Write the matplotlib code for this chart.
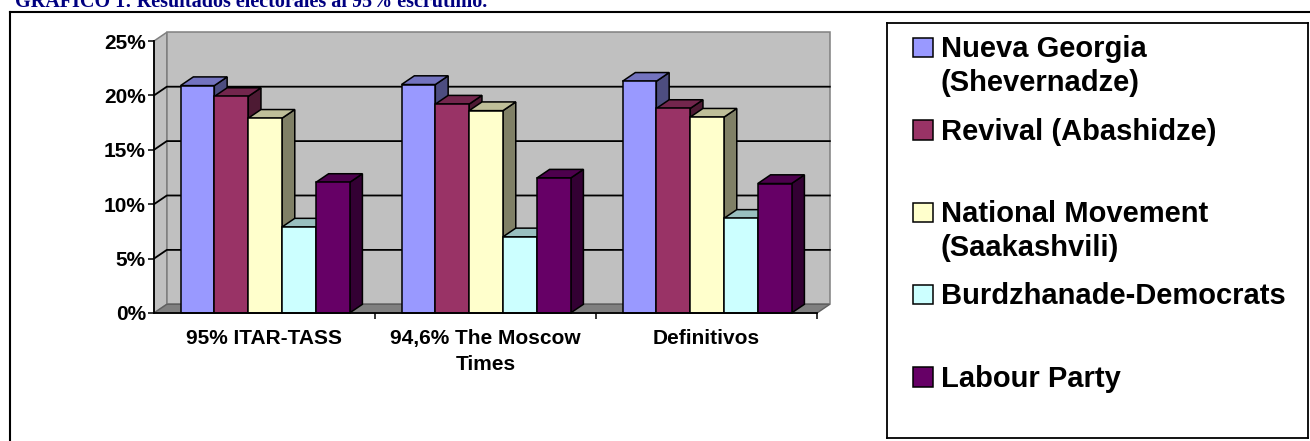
import matplotlib
matplotlib.use("Agg")
import matplotlib.pyplot as plt
from matplotlib.patches import Polygon, Rectangle
from matplotlib.lines import Line2D
from matplotlib.colors import to_rgb

# ---------------- data ----------------
categories = ["95% ITAR-TASS", "94,6% The Moscow\nTimes", "Definitivos"]
series_names = ["Nueva Georgia\n(Shevernadze)", "Revival (Abashidze)",
                "National Movement\n(Saakashvili)", "Burdzhanade-Democrats",
                "Labour Party"]
nueva_georgia = [20.9, 21.0, 21.3]
revival = [19.9, 19.2, 18.8]
national_movement = [17.9, 18.6, 18.0]
burdzhanade = [7.9, 7.0, 8.7]
labour = [12.0, 12.4, 11.9]
series_values = [nueva_georgia, revival, national_movement, burdzhanade, labour]
series_colors = ["#9999FF", "#993366", "#FFFFCC", "#CCFFFF", "#660066"]
y_ticks = [0, 5, 10, 15, 20, 25]
title = "GRAFICO 1: Resultados electorales al 95% escrutinio."

FONT = "Liberation Sans"
W_PX, H_PX = 1310, 441
fig = plt.figure(figsize=(W_PX / 100, H_PX / 100), dpi=100)

def fx(px):
    return px / W_PX

def fy(py):  # py measured from top
    return 1 - py / H_PX

# title (clipped at top, as in the source) and outer frame
fig.text(fx(15), fy(7), title, fontsize=14.5, fontweight="bold",
         family="Liberation Serif", color="#000080", va="baseline", ha="left")
fig.add_artist(Line2D([fx(10), fx(1312)], [fy(12), fy(12)], color="black", lw=1.5))
fig.add_artist(Line2D([fx(10), fx(10)], [fy(12), fy(445)], color="black", lw=1.5))

# ---------------- main 3D-look chart ----------------
ax = fig.add_axes([fx(154), 1 - 313 / H_PX, (817 - 154) / W_PX, (313 - 41) / H_PX])
ncat = len(categories)
ax.set_xlim(0, ncat)
ax.set_ylim(0, 25)
ax.patch.set_visible(False)

DX = 0.058   # depth offset in category units
DY = 0.8     # depth offset in value units
ymax = y_ticks[-1]
wall_c = "#C0C0C0"
edge_c = "#808080"

# side wall
ax.add_patch(Polygon([(0, 0), (DX, DY), (DX, ymax + DY), (0, ymax)],
                     closed=True, fc=wall_c, ec=edge_c, lw=1.1, clip_on=False, zorder=1))
# back wall
ax.add_patch(Polygon([(DX, DY), (ncat + DX, DY), (ncat + DX, ymax + DY), (DX, ymax + DY)],
                     closed=True, fc=wall_c, ec=edge_c, lw=1.1, clip_on=False, zorder=1))
# floor
ax.add_patch(Polygon([(0, 0), (ncat, 0), (ncat + DX, DY), (DX, DY)],
                     closed=True, fc=edge_c, ec="#606060", lw=1.0, clip_on=False, zorder=1.5))
# gridlines
for v in y_ticks[1:-1]:
    ax.add_line(Line2D([0, DX, ncat + DX], [v, v + DY, v + DY], color="black",
                       lw=1.3, clip_on=False, zorder=2))

def shade(c, f):
    r, g, b = to_rgb(c)
    return (r * f, g * f, b * f)

BW = 0.153
START = 0.12
z = 3
for i in range(ncat):
    for j, vals in enumerate(series_values):
        h = vals[i]
        c = series_colors[j]
        x0 = i + START + j * BW
        x1 = x0 + BW
        ax.add_patch(Polygon([(x1, 0), (x1 + DX, DY), (x1 + DX, h + DY), (x1, h)],
                             closed=True, fc=shade(c, 0.5), ec="black", lw=1.1,
                             clip_on=False, zorder=z))
        ax.add_patch(Polygon([(x0, h), (x1, h), (x1 + DX, h + DY), (x0 + DX, h + DY)],
                             closed=True, fc=shade(c, 0.75), ec="black", lw=1.1,
                             clip_on=False, zorder=z + 0.1))
        ax.add_patch(Rectangle((x0, 0), BW, h, fc=c, ec="black", lw=1.1,
                               clip_on=False, zorder=z + 0.2))
        z += 1

for s in ["top", "right"]:
    ax.spines[s].set_visible(False)
for s in ["left", "bottom"]:
    ax.spines[s].set_color("black")
    ax.spines[s].set_linewidth(1.3)
    ax.spines[s].set_zorder(100)

ax.set_yticks(y_ticks)
ax.set_yticklabels([f"{v}%" for v in y_ticks], fontsize=15, fontweight="bold", family=FONT)
ax.tick_params(axis="y", direction="out", length=4.3, width=1.1, pad=1.5, colors="black")

ax.set_xticks([i + 0.5 for i in range(ncat)])
ax.set_xticklabels(categories, fontsize=15, fontweight="bold", family=FONT, linespacing=1.45)
ax.tick_params(axis="x", which="major", length=0, pad=11.5)
ax.set_xticks(list(range(1, ncat + 1)), minor=True)
ax.tick_params(axis="x", which="minor", direction="out", length=4.3, width=1.1)

# ---------------- legend box ----------------
L, T, R, B = 887, 23, 1308, 438
lax = fig.add_axes([fx(L), fy(B), (R - L) / W_PX, (B - T) / H_PX])
lax.set_xlim(0, R - L)
lax.set_ylim(B - T, 0)
lax.set_xticks([])
lax.set_yticks([])
for s in lax.spines.values():
    s.set_linewidth(1.3)
    s.set_color("black")

first_center = 24.5
step = 82.4
SQ = 19.5
LINE_STEP = 34
for k, (name, c) in enumerate(zip(series_names, series_colors)):
    yc = first_center + k * step
    lax.add_patch(Rectangle((26, yc - SQ / 2), SQ, SQ, fc=c, ec="black", lw=1.1))
    for li, line in enumerate(name.split("\n")):
        lax.text(54, yc + SQ / 2 + li * LINE_STEP, line, fontsize=21, fontweight="bold",
                 family=FONT, va="baseline", ha="left")

fig.savefig("out.png", dpi=100)
